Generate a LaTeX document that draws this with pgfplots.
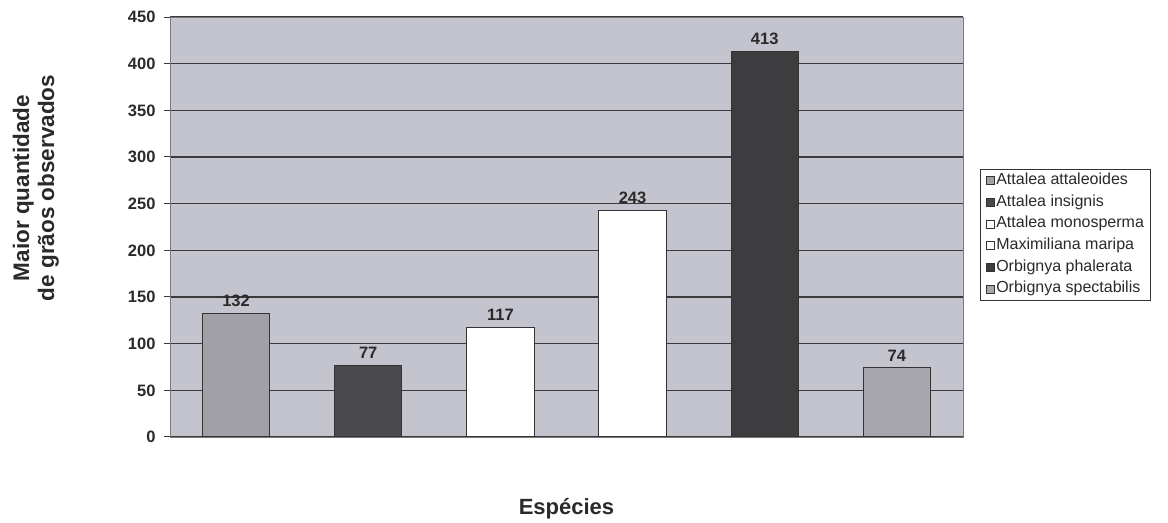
\documentclass[border=0pt]{standalone}
\usepackage{fontspec}
\setmainfont{Liberation Sans}
\usepackage{pgfplots}
\pgfplotsset{compat=1.18}
\definecolor{bgc}{HTML}{C3C4CE}
\definecolor{cgray}{HTML}{A0A0A6}
\definecolor{cgray2}{HTML}{A6A6AC}
\definecolor{cdark}{HTML}{4A4A4E}
\definecolor{cdark2}{HTML}{3D3D40}
\definecolor{edge}{HTML}{333333}
\definecolor{textc}{HTML}{2A2A2A}
\definecolor{gridc}{HTML}{3A3A3A}
\definecolor{framec}{HTML}{7A7A7A}
\begin{document}
\begin{tikzpicture}[x=1pt,y=1pt]
\fill[white] (0,0) rectangle (1168,520);
\begin{axis}[
  at={(170pt,83pt)}, anchor=south west,
  scale only axis, width=793pt, height=420pt,
  xmin=-0.5, xmax=5.5, ymin=0, ymax=450,
  ytick={0,50,...,450}, xtick=\empty,
  ytick pos=left, tick align=outside, major tick length=6pt,
  tick style={draw=gridc, line width=1pt},
  ymajorgrids, grid style={draw=gridc, line width=1.1pt},
  axis background/.style={fill=bgc},
  axis line style={draw=framec, line width=0.8pt},
  /pgf/number format/assume math mode=true,
  yticklabel style={font=\bfseries\fontsize{16.5}{18}\selectfont, text=textc, xshift=-5pt},
  ylabel={Maior quantidade\\de grãos observados},
  ylabel style={font=\bfseries\fontsize{22.5}{25}\selectfont, text=textc, align=center, at={(axis description cs:-0.169,0.593)}, anchor=center},
  xlabel={Espécies},
  xlabel style={font=\bfseries\fontsize{22}{25}\selectfont, text=textc, at={(axis description cs:0.5,0)}, anchor=center, yshift=-72pt},
  ybar, bar width=0.51,
  nodes near coords,
  nodes near coords style={font=\bfseries\fontsize{16.5}{18}\selectfont, text=textc, anchor=south, yshift=3pt},
  legend style={at={(1,0.5)}, anchor=west, xshift=17pt, yshift=-8pt, draw=edge, line width=1pt, fill=white,
    font=\fontsize{16}{18}\selectfont, text=textc, row sep=5.2pt, inner xsep=5pt, inner ysep=3pt,
    nodes={inner xsep=2pt, inner ysep=1pt, text height=11pt, text depth=3.5pt}},
  legend cell align=left,
  mylegend/.style={legend image code/.code={\draw[##1, draw=edge, line width=0.8pt] (0pt,-4pt) rectangle (8pt,4pt);}},
]
\addplot[fill=cgray, draw=edge, line width=1pt, bar shift=0pt, mylegend] coordinates {(0,132)};
\addplot[fill=cdark, draw=edge, line width=1pt, bar shift=0pt, mylegend] coordinates {(1,77)};
\addplot[fill=white, draw=edge, line width=1pt, bar shift=0pt, mylegend] coordinates {(2,117)};
\addplot[fill=white, draw=edge, line width=1pt, bar shift=0pt, mylegend] coordinates {(3,243)};
\addplot[fill=cdark2, draw=edge, line width=1pt, bar shift=0pt, mylegend] coordinates {(4,413)};
\addplot[fill=cgray2, draw=edge, line width=1pt, bar shift=0pt, mylegend] coordinates {(5,74)};
\legend{Attalea attaleoides, Attalea insignis, Attalea monosperma, Maximiliana maripa, Orbignya phalerata, Orbignya spectabilis}
\end{axis}
\end{tikzpicture}
\end{document}
